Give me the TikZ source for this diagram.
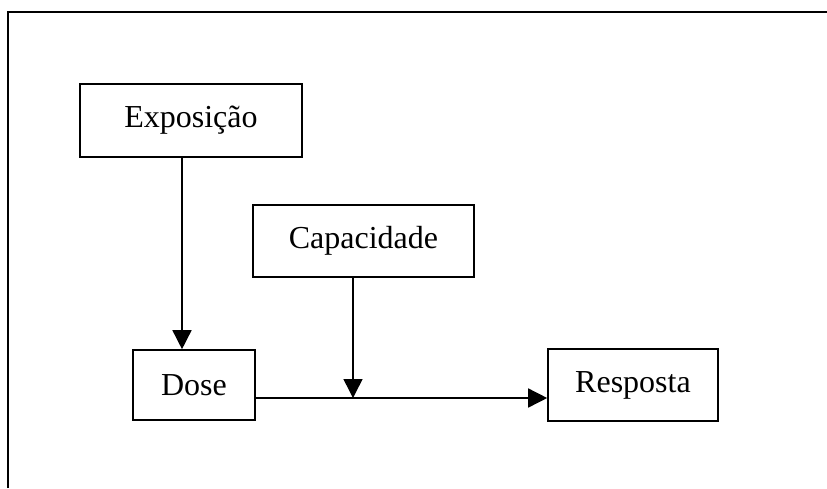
\documentclass[tikz,border=0pt]{standalone}
\usepackage{fontspec}
\setmainfont{Liberation Serif}
\usetikzlibrary{arrows.meta,calc}
\begin{document}
\begin{tikzpicture}[x=1pt,y=-1pt,
  box/.style={draw,line width=1.6pt,inner sep=0pt,font=\fontsize{32}{36}\selectfont},
  conn/.style={line width=1.5pt},
  arr/.style={conn,-{Triangle[length=19pt,width=19pt]}}]
\useasboundingbox (0,0) rectangle (827,488);
\coordinate (fa) at (8,488);
\coordinate (fb) at (8,12);
\coordinate (fc) at (827,12);
\draw[line width=2pt] (fa) -- (fb) -- (fc);
\node[box,minimum width=222pt,minimum height=73pt] (expo) at (191,120.5) {Exposição};
\node[box,minimum width=221pt,minimum height=72pt] (cap) at (363.5,241) {Capacidade};
\node[box,minimum width=122pt,minimum height=70pt] (dose) at (194,385) {Dose};
\node[box,minimum width=170pt,minimum height=72pt] (resp) at (633,385) {Resposta};
\coordinate (ax) at (182,0);
\coordinate (j) at (353,398);
\draw[arr] (ax |- expo.south) -- (ax |- dose.north);
\draw[conn] (dose.east |- j) -- (j);
\draw[arr] (j) -- (resp.west |- j);
\draw[arr] (j |- cap.south) -- (j);
\end{tikzpicture}
\end{document}
